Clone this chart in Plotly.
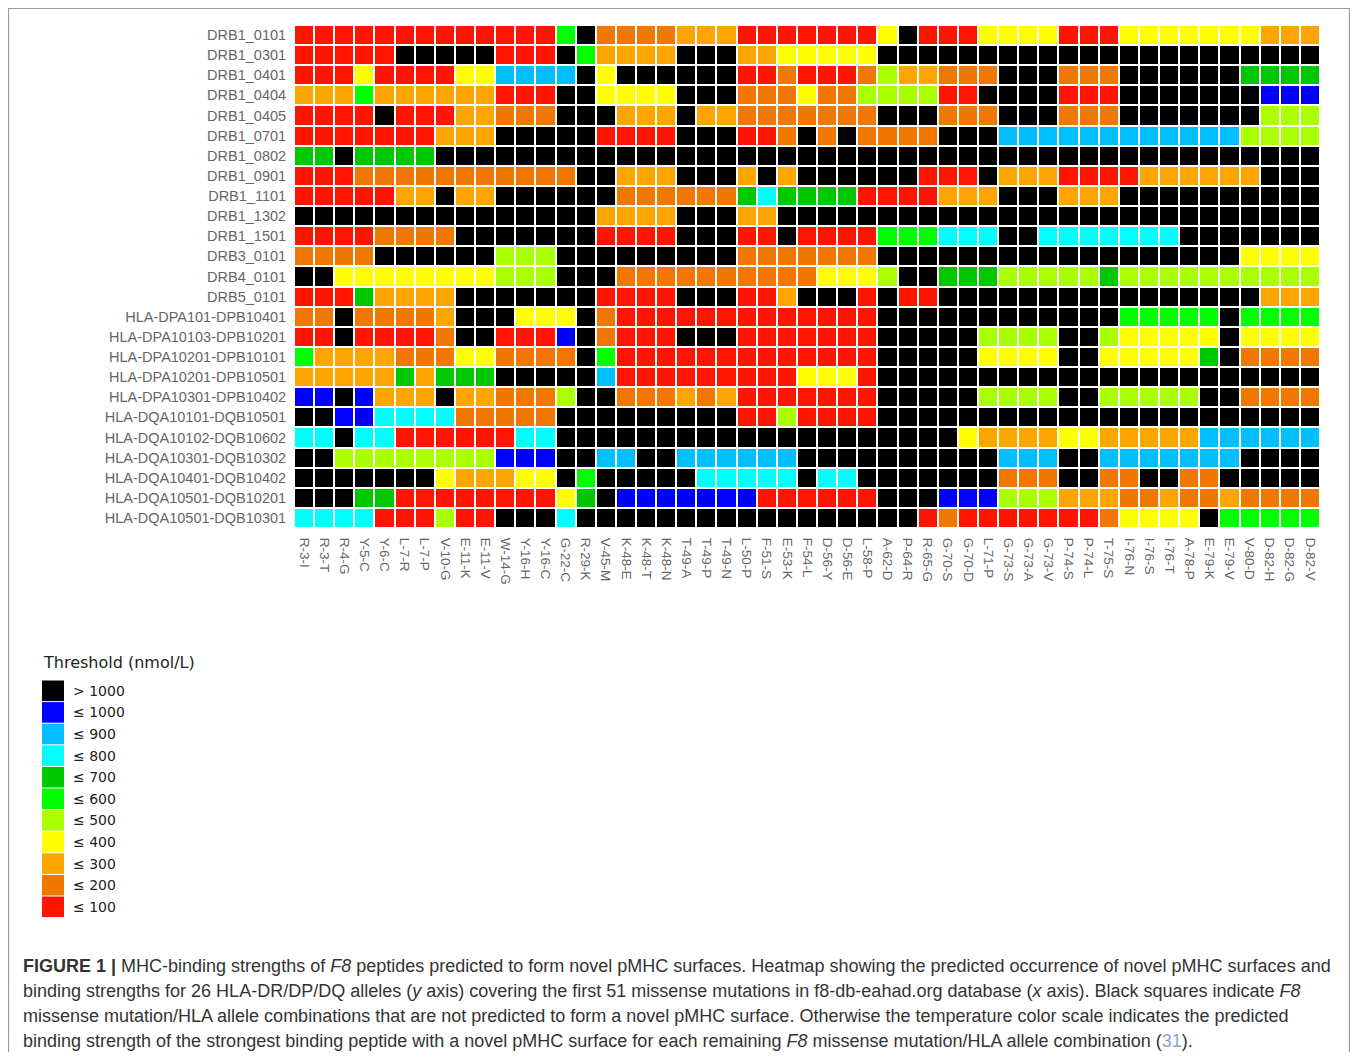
import plotly.graph_objects as go

# ---------------- data ----------------
alleles = ["DRB1_0101", "DRB1_0301", "DRB1_0401", "DRB1_0404", "DRB1_0405", "DRB1_0701",
           "DRB1_0802", "DRB1_0901", "DRB1_1101", "DRB1_1302", "DRB1_1501", "DRB3_0101",
           "DRB4_0101", "DRB5_0101", "HLA-DPA101-DPB10401", "HLA-DPA10103-DPB10201",
           "HLA-DPA10201-DPB10101", "HLA-DPA10201-DPB10501", "HLA-DPA10301-DPB10402",
           "HLA-DQA10101-DQB10501", "HLA-DQA10102-DQB10602", "HLA-DQA10301-DQB10302",
           "HLA-DQA10401-DQB10402", "HLA-DQA10501-DQB10201", "HLA-DQA10501-DQB10301"]

mutations = ["R-3-I", "R-3-T", "R-4-G", "Y-5-C", "Y-6-C", "L-7-R", "L-7-P", "V-10-G", "E-11-K",
             "E-11-V", "W-14-G", "Y-16-H", "Y-16-C", "G-22-C", "R-29-K", "V-45-M", "K-48-E",
             "K-48-T", "K-48-N", "T-49-A", "T-49-P", "T-49-N", "L-50-P", "F-51-S", "E-53-K",
             "F-54-L", "D-56-Y", "D-56-E", "L-58-P", "A-62-D", "P-64-R", "R-65-G", "G-70-S",
             "G-70-D", "L-71-P", "G-73-S", "G-73-A", "G-73-V", "P-74-S", "P-74-L", "T-75-S",
             "I-76-N", "I-76-S", "I-76-T", "A-78-P", "E-79-K", "E-79-V", "V-80-D", "D-82-H",
             "D-82-G", "D-82-V"]

# threshold classes (codes) and their legend labels / colours
level_codes = ["K", "B", "S", "C", "D", "G", "L", "Y", "A", "O", "R"]
level_labels = ["> 1000", "≤ 1000", "≤ 900", "≤ 800", "≤ 700", "≤ 600",
                "≤ 500", "≤ 400", "≤ 300", "≤ 200", "≤ 100"]
level_colors = ["#000000", "#0000FF", "#00BFFF", "#00FFFF", "#00C800", "#00FF00",
                "#AAFF00", "#FFFF00", "#FFA500", "#F07800", "#FF1400"]

# one string per allele, one code per mutation (column)
binding = [
    "RRRRRRRRRRRRRGKOOOOAAARRRRRRRYKRRRYYYYRRRYYYYYYYAAA",
    "RRRRRKKKKKRRRKGAAAAKKKAAYYYYYKKKKKKKKKKKKKKKKKKKKKK",
    "RRRYRRRRYYSSSSKYKKKKKKRRORRROLAAOOOKKKOOOKKKKKKDDDD",
    "AAAGAAAAAARRRKKYYYYKKKOOOYOOLLLLRRKKKKRRRKKKKKKKBBB",
    "RRRRKRRRAAOOOKKKAAAKAAOOOOOOOKKKOOOKKKOOOKKKKKKKLLL",
    "RRRRRRRAAAKKKKKRRRRKKKRROKOKOOOOKKKSSSSSSSSSSSSLLLL",
    "DDKDDDDKKKKKKKKKKKKKKKKKKKKKKKKKKKKKKKKKKKKKKKKKKKK",
    "RRROOOOOOOOOOOKKAAAKKKAKAKKKKKKRRRKAAARRRRAAAAAAKKK",
    "RRRRRAAKAAKKKKKKOOOOOODCDDDDRRRRAAAKKKAAAKKKKKKKKKK",
    "KKKKKKKKKKKKKKKAAAAKKKAAKKKKKKKKKKKKKKKKKKKKKKKKKKK",
    "RRRROOOOKKKKKKKRRRRKKKRRKRRRRGGGCCCKKCCCCCCCKKKKKKK",
    "OOOOKKKKKKLLLKKKKKKKKKOOOOOOOKKKKKKKKKKKKKKKKKKYYYY",
    "KKYYYYYYYYLLLKKKOOOOOOOOOOYYYLKKDDDLLLLLDLLLLLLLLLL",
    "RRRDAAAAKKKKKKKRRRRKKKRRAKKKRKRRKKKKKKKKKKKKKKKKAAA",
    "OOKOOOOAKKKYYYKORRRRRRRRRRRRRKKKKKKKKKKKKGGGGGKGGGG",
    "RRKRRRROKKRRRBKORRRKKKRRRRRRRKKKKKLLLLKKLYYYYYKYYYY",
    "GAAAAOOOYYOOOOKGRRRRRRRRRRRRRKKKKKYYYYKKYYYYYDKOOOO",
    "AAAAADADDDKKKKKSRRRRRRRRRYYYRKKKKKKKKKKKKKKKKKKKKKK",
    "BBKBAAAKAAOOOLKKOOOAOARRRRRRRKKKKKLLLLKKLLLLLKKOOOO",
    "KKBBCCCCOOOOOKKKKKKKKKRRLRRRRKKKKKKKKKKKKKKKKKKKKKK",
    "CCKCCRRRRRRCCKKKKKKKKKKKKKKKKKKKKYAAAAYYAAAAASSSSSS",
    "KKLLLLLLLLBBBKKSSKKSSSSSSKKKKKKKKKKSSSKKSSSSSSSKKKK",
    "KKKKKKKYAAAYYKGKKKKKCCCCCKCCKKKKKKKOOOKKOOKKOOKKKKK",
    "KKKDDRRRRRRRRYDKBBBBBBBRRRRRRKKKBBBLLLAAAOOAOOAOOOO",
    "CCCCRRRLRRKKKCKKKKKKKKKKKKKKKKKRORRRRRRROYYYYKGGGGG",
]

# ---------------- geometry (page pixels; body margin is 8px) ----------------
FIG_W, FIG_H = 1342, 1044
OFF = 8
PLOT_L, PLOT_R = 294, 1320
PLOT_T, PLOT_B = 25, 528
ml = PLOT_L - OFF
mr = FIG_W - (PLOT_R - OFF)
mt = PLOT_T - OFF
mb = FIG_H - (PLOT_B - OFF)
PW = PLOT_R - PLOT_L
PH = PLOT_B - PLOT_T


def px(x):
    return (x - PLOT_L) / PW


def py(y):
    return (PLOT_B - y) / PH


code_index = {c: i for i, c in enumerate(level_codes)}
z = [[code_index[c] for c in row] for row in binding]
text = [[level_labels[code_index[c]] for c in row] for row in binding]

n = len(level_codes)
colorscale = []
for i, col in enumerate(level_colors):
    colorscale.append([i / n, col])
    colorscale.append([(i + 1) / n, col])

fig = go.Figure()
fig.add_trace(go.Heatmap(
    z=z, x=mutations, y=alleles, text=text,
    colorscale=colorscale, zmin=-0.5, zmax=n - 0.5,
    showscale=False, xgap=2, ygap=2,
    hovertemplate="%{y}<br>%{x}<br>%{text}<extra></extra>",
))

shapes = []
annotations = []

# legend
LEG_X0, LEG_X1 = 42, 64
LEG_Y0, LEG_STEP = 680, 21.6
annotations.append(dict(
    xref="paper", yref="paper", x=px(41), y=py(662), xanchor="left", yanchor="middle",
    text="Threshold (nmol/L)", showarrow=False,
    font=dict(family="DejaVu Sans", size=16, color="#222222")))
for i, (lab, col) in enumerate(zip(level_labels, level_colors)):
    y0 = LEG_Y0 + i * LEG_STEP
    shapes.append(dict(type="rect", xref="paper", yref="paper",
                       x0=px(LEG_X0), x1=px(LEG_X1), y0=py(y0 + 0.5), y1=py(y0 + LEG_STEP - 0.5),
                       fillcolor=col, line=dict(width=0)))
    annotations.append(dict(
        xref="paper", yref="paper", x=px(71), y=py(y0 + LEG_STEP / 2), xanchor="left",
        yanchor="middle", text=lab, showarrow=False,
        font=dict(family="DejaVu Sans", size=14, color="#222222")))

# frame
shapes.append(dict(type="rect", xref="paper", yref="paper",
                   x0=px(8.5), x1=px(1349.5), y0=py(1070), y1=py(8.5),
                   line=dict(color="#9a9a9a", width=1.2), fillcolor="rgba(0,0,0,0)"))

# caption
caption = [
    "<b>FIGURE 1 |</b> MHC-binding strengths of <i>F8</i> peptides predicted to form novel pMHC surfaces. Heatmap showing the predicted occurrence of novel pMHC surfaces and",
    "binding strengths for 26 HLA-DR/DP/DQ alleles (<i>y</i> axis) covering the first 51 missense mutations in f8-db-eahad.org database (<i>x</i> axis). Black squares indicate <i>F8</i>",
    "missense mutation/HLA allele combinations that are not predicted to form a novel pMHC surface. Otherwise the temperature color scale indicates the predicted",
    "binding strength of the strongest binding peptide with a novel pMHC surface for each remaining <i>F8</i> missense mutation/HLA allele combination (<span style='color:#8aa4c8'>31</span>).",
]
for i, line in enumerate(caption):
    annotations.append(dict(
        xref="paper", yref="paper", x=px(21), y=py(966 + 25 * i), xanchor="left",
        yanchor="middle", text=line, showarrow=False, align="left",
        font=dict(family="Liberation Sans", size=18, color="#333333")))

fig.update_layout(
    width=FIG_W, height=FIG_H,
    margin=dict(l=ml, r=mr, t=mt, b=mb, pad=0),
    paper_bgcolor="white", plot_bgcolor="white",
    shapes=shapes, annotations=annotations,
    xaxis=dict(type="category", tickangle=90, showgrid=False, zeroline=False,
               ticks="outside", ticklen=6, tickcolor="rgba(0,0,0,0)",
               tickfont=dict(family="Liberation Sans", size=13.5, color="#666666")),
    yaxis=dict(type="category", autorange="reversed", showgrid=False, zeroline=False,
               ticks="outside", ticklen=4, tickcolor="rgba(0,0,0,0)",
               tickfont=dict(family="Liberation Sans", size=14.5, color="#666666")),
)

fig.write_html("out.html")
